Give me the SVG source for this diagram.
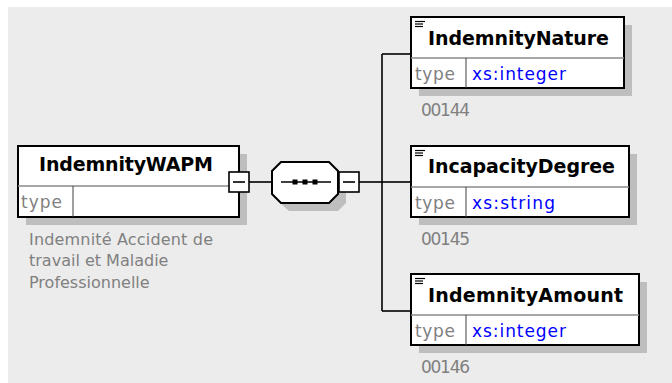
<svg xmlns="http://www.w3.org/2000/svg" width="672" height="383" viewBox="0 0 672 383">
<style>
.bg{fill:#ECECEC}
.shadow{fill:#BEBEBE}
.box{fill:#FFFFFF;stroke:#000000;stroke-width:2}
.hdiv{stroke:#8A8A8A;stroke-width:1.5}
.vdiv{stroke:#404040;stroke-width:1}
.name{font-family:"DejaVu Sans",Verdana,sans-serif;font-weight:bold;font-size:19px;fill:#000000}
.lbl{font-family:"DejaVu Sans",Verdana,sans-serif;font-size:17px;fill:#808080}
.typ{font-family:"DejaVu Sans",Verdana,sans-serif;font-size:17px;fill:#0000FF}
.desc{font-family:"DejaVu Sans",Verdana,sans-serif;font-size:16px;fill:#808080}
.conn{stroke:#000000;stroke-width:1.6;fill:none}
.minus{fill:#FFFFFF;stroke:#000000;stroke-width:1.6}
.icon{stroke:#000000;stroke-width:1.2}
</style>
<rect class="bg" x="8" y="7" width="664" height="376"/>

<g id="connectors">
  <line class="conn" x1="249" y1="182" x2="272" y2="182"/>
  <line class="conn" x1="359" y1="182" x2="382" y2="182"/>
  <line class="conn" x1="382" y1="54" x2="382" y2="311"/>
  <line class="conn" x1="382" y1="54" x2="411" y2="54"/>
  <line class="conn" x1="382" y1="182" x2="411" y2="182"/>
  <line class="conn" x1="382" y1="311" x2="411" y2="311"/>
</g>

<g id="IndemnityWAPM">
  <rect class="shadow" x="26" y="154" width="221" height="71"/>
  <rect class="box" x="18" y="146" width="221" height="71"/>
  <line class="hdiv" x1="18" y1="186" x2="239" y2="186"/>
  <line class="vdiv" x1="73" y1="186" x2="73" y2="217"/>
  <text class="name" x="39" y="171" textLength="174">IndemnityWAPM</text>
  <text class="lbl" x="21" y="208" textLength="41">type</text>
  <rect class="minus" x="229" y="172" width="20" height="20"/>
  <line class="conn" x1="233" y1="182" x2="245" y2="182"/>
  <text class="desc" x="29" y="245" textLength="184">Indemnité Accident de</text>
  <text class="desc" x="29" y="266">travail et Maladie</text>
  <text class="desc" x="29" y="288">Professionnelle</text>
</g>

<g id="sequence">
  <polygon class="shadow" points="289,170 338,170 346,178 346,203 338,211 289,211 280,203 280,178"/>
  <polygon class="box" points="281,162 329,162 338,171 338,194 329,203 281,203 272,194 272,171"/>
  <line class="conn" x1="281" y1="182" x2="331" y2="182"/>
  <rect x="292.5" y="179.5" width="5" height="5" fill="#000000"/>
  <rect x="302.5" y="179.5" width="5" height="5" fill="#000000"/>
  <rect x="312.5" y="179.5" width="5" height="5" fill="#000000"/>
  <rect class="minus" x="339" y="172" width="20" height="20"/>
  <line class="conn" x1="343" y1="182" x2="355" y2="182"/>
</g>

<g id="IndemnityNature">
  <rect class="shadow" x="419" y="25" width="213" height="71"/>
  <rect class="box" x="411" y="17" width="213" height="71"/>
  <line class="hdiv" x1="411" y1="58" x2="624" y2="58"/>
  <line class="vdiv" x1="466" y1="58" x2="466" y2="88"/>
  <line class="icon" x1="415" y1="21.5" x2="425" y2="21.5"/>
  <line class="icon" x1="415" y1="24" x2="423" y2="24"/>
  <line class="icon" x1="415" y1="26.5" x2="423" y2="26.5"/>
  <text class="name" x="428" y="45" textLength="181">IndemnityNature</text>
  <text class="lbl" x="415" y="80" textLength="40">type</text>
  <text class="typ" x="472" y="80" textLength="94">xs:integer</text>
  <text class="lbl" x="421" y="116" font-size="16" textLength="49">00144</text>
</g>

<g id="IncapacityDegree">
  <rect class="shadow" x="419" y="154" width="218" height="71"/>
  <rect class="box" x="411" y="146" width="218" height="71"/>
  <line class="hdiv" x1="411" y1="187" x2="629" y2="187"/>
  <line class="vdiv" x1="466" y1="187" x2="466" y2="217"/>
  <line class="icon" x1="415" y1="150.5" x2="425" y2="150.5"/>
  <line class="icon" x1="415" y1="153" x2="423" y2="153"/>
  <line class="icon" x1="415" y1="155.5" x2="423" y2="155.5"/>
  <text class="name" x="428" y="173" textLength="187">IncapacityDegree</text>
  <text class="lbl" x="415" y="209" textLength="40">type</text>
  <text class="typ" x="472" y="209" textLength="83">xs:string</text>
  <text class="lbl" x="421" y="245" font-size="16" textLength="49">00145</text>
</g>

<g id="IndemnityAmount">
  <rect class="shadow" x="419" y="282" width="228" height="71"/>
  <rect class="box" x="411" y="274" width="228" height="71"/>
  <line class="hdiv" x1="411" y1="315" x2="639" y2="315"/>
  <line class="vdiv" x1="466" y1="315" x2="466" y2="345"/>
  <line class="icon" x1="415" y1="278.5" x2="425" y2="278.5"/>
  <line class="icon" x1="415" y1="281" x2="423" y2="281"/>
  <line class="icon" x1="415" y1="283.5" x2="423" y2="283.5"/>
  <text class="name" x="428" y="302" textLength="195">IndemnityAmount</text>
  <text class="lbl" x="415" y="337" textLength="40">type</text>
  <text class="typ" x="472" y="337" textLength="94">xs:integer</text>
  <text class="lbl" x="421" y="373" font-size="16" textLength="49">00146</text>
</g>
</svg>
